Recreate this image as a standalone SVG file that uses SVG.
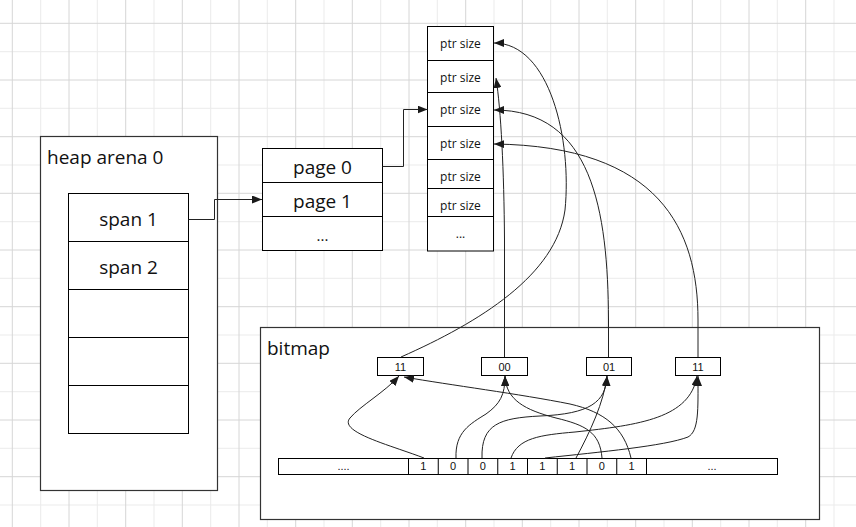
<svg xmlns="http://www.w3.org/2000/svg" width="856" height="527" viewBox="0 0 856 527">
<style>
.gd{stroke:#d6d6d6;stroke-width:1;fill:none}
.gl{stroke:#ebebeb;stroke-width:1;fill:none}
.box{fill:#fff;stroke:#000;stroke-width:1}
.outer{fill:#fff;stroke:#333;stroke-width:1.2}
.div{stroke:#000;stroke-width:1;fill:none}
.big{font-family:"Open Sans","Noto Sans",sans-serif;font-size:19px;fill:#111}
.mid{font-family:"Open Sans","Noto Sans",sans-serif;font-size:12px;fill:#111;text-anchor:middle}
.sm{font-family:"Liberation Sans",Arial,sans-serif;font-size:11px;fill:#111;text-anchor:middle}
.c{text-anchor:middle}
.con{fill:none;stroke:#222;stroke-width:1;marker-end:url(#ah)}
</style>
<defs>
<marker id="ah" markerWidth="10" markerHeight="8" refX="10" refY="4" orient="auto" markerUnits="userSpaceOnUse"><path d="M0,0 L10,4 L0,8 z" fill="#1a1a1a"/></marker>
</defs>
<rect width="856" height="527" fill="#fff"/>
<g id="grid">
<path class="gl" d="M40.7,0V527M97.3,0V527M154,0V527M210.7,0V527M267.3,0V527M324,0V527M380.7,0V527M437.3,0V527M494,0V527M550.7,0V527M607.3,0V527M664,0V527M720.7,0V527M777.3,0V527M834,0V527M0,51.7H856M0,108.3H856M0,165H856M0,221.7H856M0,278.3H856M0,335H856M0,391.7H856M0,448.3H856M0,505H856"/>
<path class="gd" d="M12.3,0V527M69,0V527M125.7,0V527M182.3,0V527M239,0V527M295.7,0V527M352.3,0V527M409,0V527M465.7,0V527M522.3,0V527M579,0V527M635.7,0V527M692.3,0V527M749,0V527M805.7,0V527M0,23.3H856M0,80H856M0,136.7H856M0,193.3H856M0,250H856M0,306.7H856M0,363.3H856M0,420H856M0,476.7H856"/>
</g>
<g id="heap-arena">
<rect class="outer" x="40.5" y="136.5" width="177" height="354"/>
<text class="big" x="47" y="164">heap arena 0</text>
</g>
<g id="spans">
<rect class="box" x="68.5" y="193.5" width="120" height="240"/>
<path class="div" d="M68.5,241.5H188.5M68.5,289.5H188.5M68.5,337.5H188.5M68.5,385.5H188.5"/>
<text class="big c" x="128.5" y="226">span 1</text>
<text class="big c" x="128.5" y="274">span 2</text>
</g>
<g id="pages">
<rect class="box" x="262.5" y="148.5" width="120" height="102"/>
<path class="div" d="M262.5,182.5H382.5M262.5,216.5H382.5"/>
<text class="big c" x="322.5" y="174">page 0</text>
<text class="big c" x="322.5" y="208">page 1</text>
<text class="big c" x="322.5" y="241" style="font-size:15px">...</text>
</g>
<g id="ptr-sizes">
<rect class="box" x="427.5" y="26.5" width="66" height="224.5"/>
<path class="div" d="M427.5,60.5H493.5M427.5,92.5H493.5M427.5,126.5H493.5M427.5,159.5H493.5M427.5,188.5H493.5M427.5,216.5H493.5"/>
<text class="mid" x="460.5" y="48">ptr size</text>
<text class="mid" x="460.5" y="82">ptr size</text>
<text class="mid" x="460.5" y="114">ptr size</text>
<text class="mid" x="460.5" y="148">ptr size</text>
<text class="mid" x="460.5" y="181">ptr size</text>
<text class="mid" x="460.5" y="210">ptr size</text>
<text class="mid" x="460.5" y="238">...</text>
</g>
<g id="bitmap">
<rect class="outer" x="260.5" y="327.5" width="559" height="192"/>
<text class="big" x="267" y="355">bitmap</text>
</g>
<g id="bits-11a"><rect class="box" x="377.5" y="357.5" width="46" height="18"/><text class="sm" x="400.5" y="371">11</text></g>
<g id="bits-00"><rect class="box" x="481.5" y="357.5" width="46" height="18"/><text class="sm" x="504.5" y="371">00</text></g>
<g id="bits-01"><rect class="box" x="586.5" y="357.5" width="45" height="18"/><text class="sm" x="609" y="371">01</text></g>
<g id="bits-11b"><rect class="box" x="675.5" y="357.5" width="45" height="18"/><text class="sm" x="698" y="371">11</text></g>
<g id="bit-row">
<rect class="box" x="278.5" y="458.5" width="499" height="16"/>
<path class="div" d="M408.5,458.5V474.5M438.25,458.5V474.5M468,458.5V474.5M497.75,458.5V474.5M527.5,458.5V474.5M557.25,458.5V474.5M587,458.5V474.5M616.75,458.5V474.5M646.5,458.5V474.5"/>
<text class="sm" x="343.5" y="470">....</text>
<text class="sm" x="423.4" y="470">1</text>
<text class="sm" x="453.1" y="470">0</text>
<text class="sm" x="482.9" y="470">0</text>
<text class="sm" x="512.6" y="470">1</text>
<text class="sm" x="542.4" y="470">1</text>
<text class="sm" x="572.1" y="470">1</text>
<text class="sm" x="601.9" y="470">0</text>
<text class="sm" x="631.6" y="470">1</text>
<text class="sm" x="712" y="470">...</text>
</g>
<g id="connectors">
<path class="con" d="M188.5,219.5H214.5V199.5H262"/>
<path class="con" d="M382.5,166.5H403.5V109.5H427.5"/>
<path class="con" d="M401,357 C480,322 556,275 565,210 C572,140 550,43 494,43"/>
<path class="con" d="M504.5,357 L504.5,240 C504,170 501,110 496,78"/>
<path class="con" d="M608.5,357 L608.5,320 C608,210 592,110 494,110"/>
<path class="con" d="M698,357 L698,320 C698,230 660,146 494,144"/>
<path class="con" d="M424,458 C390,445 338,432 350,418 C360,406 385,392 399,376"/>
<path class="con" d="M631,458 C624,428 605,412 570,404 C520,394 450,385 404,377"/>
<path class="con" d="M456,458 C455,432 470,424 486,414 C500,404 505,395 505,376"/>
<path class="con" d="M602,458 C600,432 585,425 556,418 C525,410 506,400 505,376"/>
<path class="con" d="M482,458 C481,424 500,418 540,416 C590,414 606,402 607,376"/>
<path class="con" d="M511,458 C518,438 540,435 575,432 C640,425 690,418 697,376"/>
<path class="con" d="M545,458 C600,452 665,446 688,437 C699,431 698,410 698,376"/>
<path class="con" d="M576,458 C590,432 604,402 607,376"/>
</g>
</svg>
